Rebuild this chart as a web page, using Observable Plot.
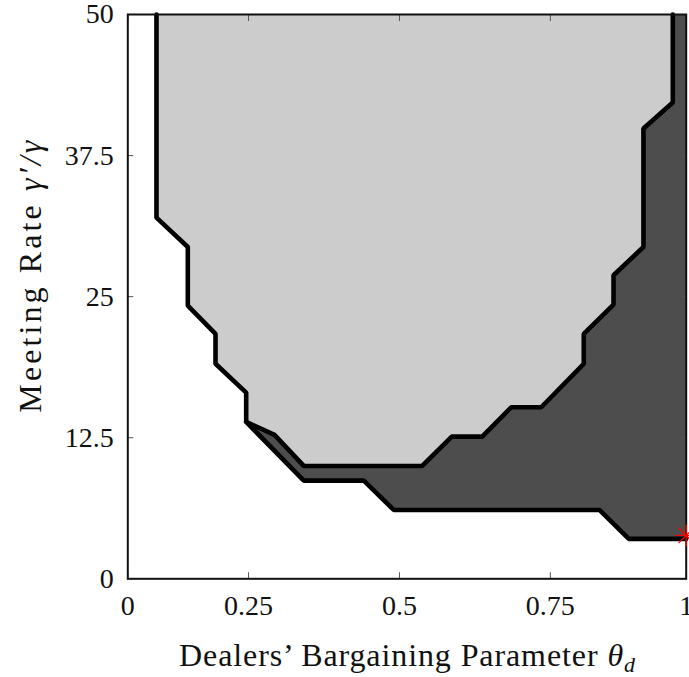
<!DOCTYPE html>
<html><head><meta charset="utf-8">
<script src="https://cdn.jsdelivr.net/npm/d3@7"></script>
<script src="https://cdn.jsdelivr.net/npm/@observablehq/plot@0.6"></script>
<style>body{margin:0;background:#fff}svg{display:block}</style>
</head><body><div id="chart"></div>
<script>
// Axis extent and ticks (ticks at the edges are labelled 0 and 1)
const xDomain = [0.05, 0.975];
const xTickValues = [0.05, 0.25, 0.5, 0.75, 0.975];
const xTickLabels = ["0", "0.25", "0.5", "0.75", "1"];
const yTickValues = [0, 12.5, 25, 37.5, 50];
const yTickLabels = ["0", "12.5", "25", "37.5", "50"];

// Upper boundary (light-grey region edge), top-left to top-right
const upperX = [0.0975, 0.0975, 0.1494, 0.1494, 0.1953, 0.1953, 0.2461, 0.2461, 0.293, 0.3415, 0.5377, 0.5867, 0.6371, 0.6851, 0.7348, 0.8053, 0.8053, 0.8546, 0.8546, 0.9042, 0.9042, 0.9528, 0.9528];
const upperY = [50, 32.0, 29.4, 24.2, 21.7, 19.05, 16.5, 13.9, 12.75, 10.0, 10.0, 12.6, 12.6, 15.2, 15.2, 19.05, 21.7, 24.3, 26.9, 29.4, 39.9, 42.2, 50];

// Lower boundary (dark-grey region bottom edge)
const lowerX = [0.2461, 0.3415, 0.4409, 0.4906, 0.8313, 0.8799, 0.975];
const lowerY = [13.9, 8.7, 8.7, 6.1, 6.1, 3.54, 3.54];

// Red star marker
const markerX = [0.975];
const markerY = [3.84];

const upper = upperX.map((x, i) => ({x, y: upperY[i]}));
const lower = lowerX.map((x, i) => ({x, y: lowerY[i]}));
const marker = markerX.map((x, i) => ({x, y: markerY[i]}));
const splitIndex = upper.findIndex(d => d.x === lowerX[0] && d.y === lowerY[0]);
const lightPoly = upper;
const darkPoly = [...upper.slice(splitIndex), {x: xDomain[1], y: 50}, ...lower.slice().reverse()];

const fmtX = d => xTickLabels[xTickValues.indexOf(d)];
const fmtY = d => yTickLabels[yTickValues.indexOf(d)];
const serif = "'Liberation Serif', 'Times New Roman', serif";

const chart = Plot.plot({
  width: 689,
  height: 677,
  marginTop: 14,
  marginBottom: 98.7,
  marginLeft: 127.3,
  marginRight: 3.3,
  style: {fontFamily: serif, fontSize: "28px", color: "#111", background: "white"},
  x: {type: "linear", domain: xDomain},
  y: {type: "linear", domain: [0, 50]},
  marks: [
    Plot.line(lightPoly, {x: "x", y: "y", fill: "#cccccc", stroke: "none"}),
    Plot.line(darkPoly, {x: "x", y: "y", fill: "#4d4d4d", stroke: "none"}),
    Plot.line(upper, {x: "x", y: "y", stroke: "black", strokeWidth: 4.6, strokeLinejoin: "miter"}),
    Plot.line(lower, {x: "x", y: "y", stroke: "black", strokeWidth: 4.6, strokeLinejoin: "miter"}),
    // inward ticks on all four sides
    Plot.axisX({anchor: "bottom", ticks: xTickValues, tickSize: -6, tickFormat: () => "", label: null, stroke: "#555"}),
    Plot.axisX({anchor: "top", ticks: xTickValues, tickSize: -6, tickFormat: () => "", label: null, stroke: "#555"}),
    Plot.axisY({anchor: "left", ticks: yTickValues, tickSize: -6, tickFormat: () => "", label: null, stroke: "#555"}),
    Plot.axisY({anchor: "right", ticks: yTickValues, tickSize: -6, tickFormat: () => "", label: null, stroke: "#555"}),
    // tick labels
    Plot.axisX({anchor: "bottom", ticks: xTickValues, tickSize: 0, tickPadding: 16, tickFormat: fmtX, label: null, fontFamily: serif, fontSize: 28}),
    Plot.axisY({anchor: "left", ticks: yTickValues, tickSize: 0, tickPadding: 14, tickFormat: fmtY, label: null, fontFamily: serif, fontSize: 28}),
    Plot.frame({stroke: "#111", strokeWidth: 2}),
    Plot.dot(marker, {x: "x", y: "y", symbol: "plus", r: 7, stroke: "red", strokeWidth: 1.3}),
    Plot.dot(marker, {x: "x", y: "y", symbol: "times", r: 7, stroke: "red", strokeWidth: 1.3}),
    Plot.text(["Dealers’ Bargaining Parameter θd"], {frameAnchor: "bottom", textAnchor: "middle", dy: 87, text: d => d, fill: "#111", fontSize: 32, fontFamily: serif}),
    Plot.text(["Meeting Rate γ′/γ"], {frameAnchor: "left", textAnchor: "middle", dx: -97, dy: -20, rotate: -90, text: d => d, fill: "#111", fontSize: 32, fontFamily: serif})
  ]
});

// Math-style typesetting for the axis titles
const NS = "http://www.w3.org/2000/svg";
chart.querySelectorAll("text").forEach(t => {
  const s = t.textContent;
  if (s === "Dealers’ Bargaining Parameter θd") {
    t.textContent = "";
    t.append(document.createTextNode("Dealers’ Bargaining Parameter "));
    const th = document.createElementNS(NS, "tspan");
    th.setAttribute("font-style", "italic"); th.textContent = "θ";
    const sub = document.createElementNS(NS, "tspan");
    sub.setAttribute("font-style", "italic"); sub.setAttribute("font-size", "22px");
    sub.setAttribute("dy", "6"); sub.textContent = "d";
    t.append(th, sub);
    t.setAttribute("textLength", "456");
    t.setAttribute("lengthAdjust", "spacing");
  } else if (s === "Meeting Rate γ′/γ") {
    t.textContent = "";
    t.append(document.createTextNode("Meeting Rate "));
    const g = document.createElementNS(NS, "tspan");
    g.setAttribute("font-style", "italic"); g.textContent = "γ′/γ";
    t.append(g);
    t.setAttribute("textLength", "272");
    t.setAttribute("lengthAdjust", "spacing");
  }
});

document.getElementById("chart").append(chart);
</script>
</body></html>
